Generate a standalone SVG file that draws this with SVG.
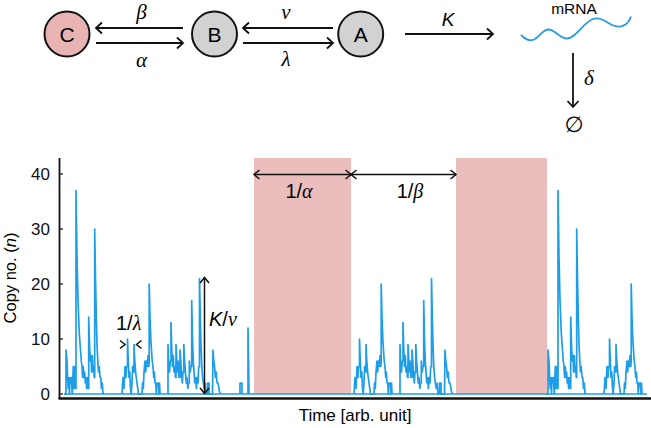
<svg xmlns="http://www.w3.org/2000/svg" xmlns:xlink="http://www.w3.org/1999/xlink" width="651" height="428" viewBox="0 0 651 428">
<style>
.sans{font-family:"Liberation Sans",Arial,sans-serif;}
.ser{font-family:"Liberation Serif","Times New Roman",serif;font-style:italic;}
.it{font-style:italic;}
.node{stroke:#111;stroke-width:2;}
.conn{stroke:#111;stroke-width:1.8;fill:none;}
.ann{stroke:#111;stroke-width:1.5;fill:none;}
.tr{fill:none;stroke:#1e9de8;stroke-width:1.7;stroke-linejoin:round;}
.pink{fill:#ebbdbd;}
</style>
<defs>
<marker id="ah" viewBox="-8 -7 10 14" markerWidth="10" markerHeight="14" refX="0" refY="0" orient="auto-start-reverse" markerUnits="userSpaceOnUse">
<path d="M-6,-5.5 L0,0 L-6,5.5" fill="none" stroke="#111" stroke-width="1.8"/>
</marker>
<marker id="ah2" viewBox="-8 -7 10 14" markerWidth="10" markerHeight="14" refX="0" refY="0" orient="auto-start-reverse" markerUnits="userSpaceOnUse">
<path d="M-5.5,-4.5 L0,0 L-5.5,4.5" fill="none" stroke="#111" stroke-width="1.5"/>
</marker>
<path id="s1a" vector-effect="non-scaling-stroke" d="M64,0 L66,0 66,8 67,6 67.6,3 68.2,1 68.8,3 69.5,0 70,3 71,2 71.5,3 72.2,0 72.6,2 73.3,5 73.8,1 74.5,5 75.3,1 76,1 76,37 77,25 78,17 79.3,11 80.5,8 81.3,6 82,5 82.6,3 83.2,5 84,3 84.6,4 85.3,2 86,3 86.6,1 87.2,3 88,1 88.7,1 88.7,14 89.5,9 90.3,6 91,7 91.6,4 92.3,7 93,4 93.7,5 94.3,3 94.7,3 94.7,30 95.5,21 96.3,14 97,9 97.8,6 98.5,4 99.2,5 100,3 100.8,3 101.5,1 102.3,2 103,0"/>
<path id="s1b" vector-effect="non-scaling-stroke" d="M122,0 L123,3 124,1 125,5 126,3 126.6,5 127.5,5 127.5,10 128.3,6 129,3 129.8,4 130.5,1 131.2,0 132,2 132.6,5 133.3,4 134,4 134,9 134.8,6 135.6,4 136.3,3 137,2 137.8,1 138.5,0 142,0 142.5,2 143.3,1 144,4 145,6 145.7,4 146.5,6 147.2,5 148,7 148.8,5 149.2,6 149.2,20 150,14 150.8,10 151.5,8 152.2,6 153,5 153.7,3 154.4,4 155,2 155.7,2 156.3,0 157,2 158.5,2 159,0 159.5,2 160,0"/>
<path id="s1c" vector-effect="non-scaling-stroke" d="M167.5,0 L168,0 168,9 168.7,5 169.5,4 170.3,6 171,6 171,13 171.8,8 172.5,5 173.3,7 174,4 174.7,5 175.5,3 176,3 176,9 176.8,6 177.5,4 178.2,6 179,3 180,3 180,8 180.8,6 181.5,4 182.3,2 183,4 183.8,4 183.8,9 184.6,6 185.4,4 186.2,2 187,3 187.8,1 188.5,2 189.3,2 189.3,6 190.2,4 191,5 191.7,5 191.7,17 192.5,10 193.3,6 194,4 194.8,2 195.6,3 196.4,1 197.2,3 198,2 198.7,5 199.5,5 199.5,21 200.3,14 201,9 201.8,5 202.6,3 203.4,2 204.2,1 205,2 206,0 207.5,0 207.5,2 209,2 209,0 212.5,0 213,8 213.8,6 214.6,5 215.4,3 216.2,4 217,2 218,2 219,1 220,0"/>
</defs>
<rect width="651" height="428" fill="#fff"/>

<!-- Top reaction scheme nodes -->
<g id="nodeC"><circle class="node" cx="67" cy="34" r="22.5" fill="#e8b3b3"/><text class="sans" x="67" y="41.5" font-size="21" text-anchor="middle">C</text></g>
<g id="nodeB"><circle class="node" cx="214.5" cy="34" r="22.5" fill="#d2d2d2"/><text class="sans" x="214.5" y="41.5" font-size="21" text-anchor="middle">B</text></g>
<g id="nodeA"><circle class="node" cx="360.7" cy="34" r="22.5" fill="#d2d2d2"/><text class="sans" x="360.7" y="41.5" font-size="21" text-anchor="middle">A</text></g>
<g id="nodeMRNA">
<text class="sans" x="574" y="13.5" font-size="15.5" text-anchor="middle">mRNA</text>
<path d="M521,35 C525,39 529,41 533,40 C539,38 542,30 548,29.5 C555,29 560,39 567,38.5 C576,38 582,24 592,19.5 C600,16 606,22 612,25 C620,28.5 628,26 631,16.5" fill="none" stroke="#2a9be6" stroke-width="1.8"/>
</g>
<g id="nodeEmpty"><text x="574" y="132" font-family="DejaVu Sans,sans-serif" font-size="22" text-anchor="middle">∅</text></g>

<!-- Connectors -->
<g id="connectors">
<line class="conn" x1="183" y1="28" x2="96" y2="28" marker-end="url(#ah)"/>
<line class="conn" x1="96" y1="43" x2="183" y2="43" marker-end="url(#ah)"/>
<line class="conn" x1="333" y1="28" x2="243" y2="28" marker-end="url(#ah)"/>
<line class="conn" x1="243" y1="43" x2="333" y2="43" marker-end="url(#ah)"/>
<line class="conn" x1="405" y1="34" x2="493" y2="34" marker-end="url(#ah)"/>
<line class="conn" x1="573" y1="53" x2="573" y2="107" marker-end="url(#ah)"/>
</g>
<g id="rate-labels" font-size="21">
<text class="ser" x="141.5" y="18.5" text-anchor="middle">β</text>
<text class="ser" x="141.5" y="67" text-anchor="middle">α</text>
<text class="ser" x="286" y="18.5" text-anchor="middle">ν</text>
<text class="ser" x="286" y="66" text-anchor="middle">λ</text>
<text class="sans it" x="448" y="26" font-size="19" text-anchor="middle">K</text>
<text class="ser" x="589" y="85" text-anchor="middle">δ</text>
</g>

<!-- Plot -->
<rect class="pink" x="254" y="158" width="97" height="236"/>
<rect class="pink" x="456" y="158" width="91" height="236"/>

<g transform="translate(0,394) scale(1,-5.5)" class="tr">
<path vector-effect="non-scaling-stroke" d="M64,0 H647"/>
<use xlink:href="#s1a"/>
<use xlink:href="#s1b"/>
<use xlink:href="#s1c"/>
<path vector-effect="non-scaling-stroke" d="M240,0 L240,2 242,2 242,0 M248,0 L248,12 249,0"/>
<use xlink:href="#s1b" transform="translate(232,0)"/>
<use xlink:href="#s1c" transform="translate(232,0)"/>
<use xlink:href="#s1a" transform="translate(482,0)"/>
<use xlink:href="#s1b" transform="translate(482,0)"/>
</g>

<!-- axes -->
<line x1="59.5" y1="158" x2="59.5" y2="399" stroke="#111" stroke-width="1.8"/>
<line x1="58.5" y1="398.5" x2="651" y2="398.5" stroke="#111" stroke-width="2.6"/>
<g stroke="#111" stroke-width="1.2">
<line x1="60" y1="174" x2="63" y2="174"/>
<line x1="60" y1="229" x2="63" y2="229"/>
<line x1="60" y1="284" x2="63" y2="284"/>
<line x1="60" y1="339" x2="63" y2="339"/>
<line x1="60" y1="394" x2="63" y2="394"/>
</g>
<g class="sans" font-size="17" text-anchor="end" fill="#111">
<text x="50" y="180">40</text>
<text x="50" y="235">30</text>
<text x="50" y="290">20</text>
<text x="50" y="345">10</text>
<text x="50" y="400">0</text>
</g>
<text class="sans" font-size="16.5" text-anchor="middle" transform="translate(16,278) rotate(-90)">Copy no. (<tspan class="it">n</tspan>)</text>
<text class="sans" font-size="17" x="355" y="421" text-anchor="middle">Time [arb. unit]</text>

<!-- annotations -->
<line class="ann" x1="254" y1="174.5" x2="351" y2="174.5" marker-start="url(#ah2)" marker-end="url(#ah2)"/>
<line class="ann" x1="351" y1="174.5" x2="456" y2="174.5" marker-start="url(#ah2)" marker-end="url(#ah2)"/>
<text x="299" y="198" font-size="20" text-anchor="middle"><tspan class="sans">1/</tspan><tspan class="ser">α</tspan></text>
<text x="410" y="198" font-size="20" text-anchor="middle"><tspan class="sans">1/</tspan><tspan class="ser">β</tspan></text>
<line class="ann" x1="204.5" y1="277.5" x2="204.5" y2="393.5" marker-start="url(#ah2)" marker-end="url(#ah2)"/>
<text x="209" y="326" font-size="20"><tspan class="sans it">K</tspan><tspan class="sans">/</tspan><tspan class="ser">ν</tspan></text>
<text x="116" y="330" font-size="20"><tspan class="sans">1/</tspan><tspan class="ser">λ</tspan></text>
<polyline class="ann" points="120,340.5 125,344.5 120,348.5"/>
<polyline class="ann" points="141.5,340.5 136.5,344.5 141.5,348.5"/>
</svg>
